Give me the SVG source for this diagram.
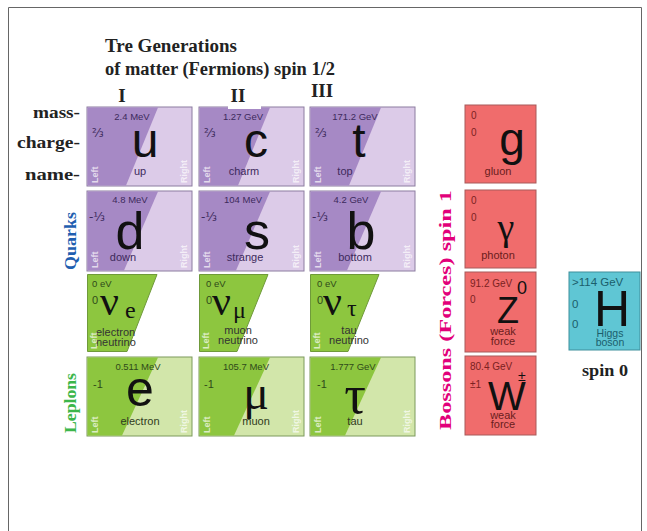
<svg xmlns="http://www.w3.org/2000/svg" width="647" height="531" viewBox="0 0 647 531">
<style>
.hdr{font-family:"Liberation Serif",serif;font-weight:bold;font-size:18px;fill:#222}
.num{font-family:"Liberation Serif",serif;font-weight:bold;font-size:19px;fill:#222}
.lbl{font-family:"Liberation Serif",serif;font-weight:bold;font-size:17px;fill:#222}
.serif{font-family:"Liberation Serif",serif}
.qbg{fill:#dccbe8;stroke:#8c7ca0;stroke-width:1}
.qdk{fill:#a689c5}
.lbg{fill:#d2e6aa;stroke:#7c9a5c;stroke-width:1}
.ldk{fill:#8dc63f}
.nu{fill:#8dc63f;stroke:#6f9a3a;stroke-width:1}
.bbg{fill:#f06c6c;stroke:#a85a5a;stroke-width:1}
.hbg{fill:#5fc6d4;stroke:#3f8f9c;stroke-width:1}
.qs{font-family:"Liberation Sans",Arial,sans-serif;font-size:9.5px;fill:#3d2a5c}
.qc{font-family:"DejaVu Sans",sans-serif;font-size:12px;fill:#3d2a5c}
.qn{font-family:"Liberation Sans",Arial,sans-serif;font-size:11px;fill:#3d2a5c}
.ls{font-family:"Liberation Sans",Arial,sans-serif;font-size:9.5px;fill:#2f4a1a}
.lc{font-family:"Liberation Sans",Arial,sans-serif;font-size:11px;fill:#2f4a1a}
.ln{font-family:"Liberation Sans",Arial,sans-serif;font-size:11px;fill:#2f3a20}
.nn{font-family:"Liberation Sans",Arial,sans-serif;font-size:11px;fill:#333}
.bs{font-family:"Liberation Sans",Arial,sans-serif;font-size:10px;fill:#7a2222}
.bn{font-family:"Liberation Sans",Arial,sans-serif;font-size:11px;fill:#6a1c1c}
.hs{font-family:"Liberation Sans",Arial,sans-serif;font-size:11.5px;fill:#1b5e6c}
.hn{font-family:"Liberation Sans",Arial,sans-serif;font-size:10.5px;fill:#1b5e6c}
.big{font-family:"Liberation Sans",Arial,sans-serif;fill:#111}
.lr{font-family:"Liberation Sans",Arial,sans-serif;font-size:9px;font-weight:bold;fill:#fff;fill-opacity:0.7}
.mid{text-anchor:middle}
</style>

<!-- frame -->
<path d="M8.5,531 V7.5 H641.5 V531" fill="none" stroke="#666" stroke-width="1"/>

<!-- headings -->
<g id="headings">
<text class="hdr" x="105" y="52" textLength="132" lengthAdjust="spacingAndGlyphs">Tre Generations</text>
<text class="hdr" x="105" y="75" textLength="230" lengthAdjust="spacingAndGlyphs">of matter (Fermions) spin 1/2</text>
<text class="num mid" x="122" y="102">I</text>
<text class="num mid" x="238" y="102">II</text>
<text class="num mid" x="322" y="97">III</text>
<text class="lbl" x="33" y="118" textLength="47" lengthAdjust="spacingAndGlyphs">mass-</text>
<text class="lbl" x="17" y="148" textLength="63" lengthAdjust="spacingAndGlyphs">charge-</text>
<text class="lbl" x="25" y="180" textLength="55" lengthAdjust="spacingAndGlyphs">name-</text>
<text class="lbl" transform="translate(76,270) rotate(-90)" style="fill:#1f5fb0" textLength="58" lengthAdjust="spacingAndGlyphs">Quarks</text>
<text class="lbl" transform="translate(76,433) rotate(-90)" style="fill:#3cb64a" textLength="60" lengthAdjust="spacingAndGlyphs">Leplons</text>
<text class="lbl" transform="translate(451,430) rotate(-90)" style="fill:#e2007a" textLength="240" lengthAdjust="spacingAndGlyphs">Bossons (Forces) spin 1</text>
<text class="lbl" x="582" y="376" textLength="46" lengthAdjust="spacingAndGlyphs">spin 0</text>
</g>

<!-- quarks row 1 -->
<g id="cell-u" transform="translate(87,107)">
<rect class="qbg" x="0" y="0" width="105" height="79"/>
<polygon class="qdk" points="0.5,0.5 71,0.5 39,78.5 0.5,78.5"/>
<text class="qs mid" x="45" y="13">2.4 MeV</text>
<text class="qc" x="5" y="30">⅔</text>
<text class="big mid" x="58" y="50" font-size="48">u</text>
<text class="qn mid" x="53" y="68">up</text>
<text class="lr" transform="translate(11,76) rotate(-90)">Left</text>
<text class="lr" transform="translate(100,76) rotate(-90)">Right</text>
</g>
<g id="cell-c" transform="translate(199,107)">
<rect class="qbg" x="0" y="0" width="105" height="79"/>
<polygon class="qdk" points="0.5,0.5 71,0.5 39,78.5 0.5,78.5"/>
<text class="qs mid" x="44" y="13">1.27 GeV</text>
<text class="qc" x="5" y="30">⅔</text>
<text class="big mid" x="57" y="50" font-size="48">c</text>
<text class="qn mid" x="45" y="68">charm</text>
<text class="lr" transform="translate(11,76) rotate(-90)">Left</text>
<text class="lr" transform="translate(100,76) rotate(-90)">Right</text>
</g>
<rect x="228" y="104" width="33" height="5" fill="#fff"/>
<g id="cell-t" transform="translate(310,107)">
<rect class="qbg" x="0" y="0" width="105" height="79"/>
<polygon class="qdk" points="0.5,0.5 71,0.5 39,78.5 0.5,78.5"/>
<text class="qs mid" x="45" y="13">171.2 GeV</text>
<text class="qc" x="5" y="30">⅔</text>
<text class="big mid" x="49" y="50" font-size="48">t</text>
<text class="qn mid" x="35" y="68">top</text>
<text class="lr" transform="translate(11,76) rotate(-90)">Left</text>
<text class="lr" transform="translate(100,76) rotate(-90)">Right</text>
</g>

<!-- quarks row 2 -->
<g id="cell-d" transform="translate(87,191)">
<rect class="qbg" x="0" y="0" width="105" height="80"/>
<polygon class="qdk" points="0.5,0.5 71,0.5 37,79.5 0.5,79.5"/>
<text class="qs mid" x="43" y="12">4.8 MeV</text>
<text class="qc" x="2" y="30">-⅓</text>
<text class="big mid" x="43" y="58" font-size="52">d</text>
<text class="qn mid" x="36" y="70">down</text>
<text class="lr" transform="translate(11,77) rotate(-90)">Left</text>
<text class="lr" transform="translate(100,77) rotate(-90)">Right</text>
</g>
<g id="cell-s" transform="translate(199,191)">
<rect class="qbg" x="0" y="0" width="105" height="80"/>
<polygon class="qdk" points="0.5,0.5 71,0.5 37,79.5 0.5,79.5"/>
<text class="qs mid" x="44" y="12">104 MeV</text>
<text class="qc" x="2" y="30">-⅓</text>
<text class="big mid" x="58" y="58" font-size="52">s</text>
<text class="qn mid" x="46" y="70">strange</text>
<text class="lr" transform="translate(11,77) rotate(-90)">Left</text>
<text class="lr" transform="translate(100,77) rotate(-90)">Right</text>
</g>
<g id="cell-b" transform="translate(310,191)">
<rect class="qbg" x="0" y="0" width="105" height="80"/>
<polygon class="qdk" points="0.5,0.5 71,0.5 37,79.5 0.5,79.5"/>
<text class="qs mid" x="41" y="12">4.2 GeV</text>
<text class="qc" x="2" y="30">-⅓</text>
<text class="big mid" x="51" y="58" font-size="52">b</text>
<text class="qn mid" x="45" y="70">bottom</text>
<text class="lr" transform="translate(11,77) rotate(-90)">Left</text>
<text class="lr" transform="translate(100,77) rotate(-90)">Right</text>
</g>

<!-- neutrinos -->
<g id="cell-nue" transform="translate(87,274)">
<polygon class="nu" points="0.5,0.5 70,0.5 40,77.5 0.5,77.5"/>
<text class="ls" x="5" y="13">0 eV</text>
<text class="lc" x="5" y="30">0</text>
<text class="serif" x="13" y="41" font-size="42" fill="#111">ν</text>
<text class="serif" x="38" y="44" font-size="24" fill="#111">e</text>
<text class="nn" x="9" y="62">electron</text>
<text class="nn" x="9" y="72">neutrino</text>
<text class="lr" transform="translate(10,75) rotate(-90)">Left</text>
</g>
<g id="cell-numu" transform="translate(199,274)">
<polygon class="nu" points="0.5,0.5 69,0.5 38,77.5 0.5,77.5"/>
<text class="ls" x="7" y="13">0 eV</text>
<text class="lc" x="7" y="30">0</text>
<text class="serif" x="13" y="41" font-size="42" fill="#111">ν</text>
<text class="serif" x="34" y="44" font-size="24" fill="#111">μ</text>
<text class="nn mid" x="39" y="60">muon</text>
<text class="nn mid" x="39" y="70">neutrino</text>
<text class="lr" transform="translate(10,75) rotate(-90)">Left</text>
</g>
<g id="cell-nutau" transform="translate(310,274)">
<polygon class="nu" points="0.5,0.5 69,0.5 38,77.5 0.5,77.5"/>
<text class="ls" x="7" y="13">0 eV</text>
<text class="lc" x="7" y="30">0</text>
<text class="serif" x="13" y="41" font-size="42" fill="#111">ν</text>
<text class="serif" x="37" y="42" font-size="24" fill="#111">τ</text>
<text class="nn mid" x="39" y="60">tau</text>
<text class="nn mid" x="39" y="70">neutrino</text>
<text class="lr" transform="translate(10,75) rotate(-90)">Left</text>
</g>

<!-- charged leptons -->
<g id="cell-e" transform="translate(87,357)">
<rect class="lbg" x="0" y="0" width="105" height="79"/>
<polygon class="ldk" points="0.5,0.5 71,0.5 35,78.5 0.5,78.5"/>
<text class="ls mid" x="51" y="13">0.511 MeV</text>
<text class="lc" x="6" y="31">-1</text>
<text class="big mid" x="53" y="49" font-size="50">e</text>
<text class="ln mid" x="53" y="68">electron</text>
<text class="lr" transform="translate(11,76) rotate(-90)">Left</text>
<text class="lr" transform="translate(100,76) rotate(-90)">Right</text>
</g>
<g id="cell-mu" transform="translate(199,357)">
<rect class="lbg" x="0" y="0" width="105" height="79"/>
<polygon class="ldk" points="0.5,0.5 71,0.5 35,78.5 0.5,78.5"/>
<text class="ls mid" x="47" y="13">105.7 MeV</text>
<text class="lc" x="5" y="31">-1</text>
<text class="serif mid" x="57" y="52" font-size="48" fill="#111">μ</text>
<text class="ln mid" x="57" y="68">muon</text>
<text class="lr" transform="translate(11,76) rotate(-90)">Left</text>
<text class="lr" transform="translate(100,76) rotate(-90)">Right</text>
</g>
<g id="cell-tau" transform="translate(310,357)">
<rect class="lbg" x="0" y="0" width="105" height="79"/>
<polygon class="ldk" points="0.5,0.5 71,0.5 35,78.5 0.5,78.5"/>
<text class="ls mid" x="43" y="13">1.777 GeV</text>
<text class="lc" x="7" y="31">-1</text>
<text class="serif mid" x="45" y="56" font-size="54" fill="#111">τ</text>
<text class="ln mid" x="45" y="68">tau</text>
<text class="lr" transform="translate(11,76) rotate(-90)">Left</text>
<text class="lr" transform="translate(100,76) rotate(-90)">Right</text>
</g>

<!-- bosons -->
<g id="cell-g" transform="translate(465,105)">
<rect class="bbg" x="0" y="0" width="71" height="78"/>
<text class="bs" x="6" y="14" font-size="11">0</text>
<text class="bs" x="6" y="31" font-size="11">0</text>
<text class="big mid" x="47" y="50" font-size="46">g</text>
<text class="bn mid" x="33" y="70">gluon</text>
</g>
<g id="cell-gamma" transform="translate(465,190)">
<rect class="bbg" x="0" y="0" width="71" height="78"/>
<text class="bs" x="6" y="14" font-size="11">0</text>
<text class="bs" x="6" y="31" font-size="11">0</text>
<text class="serif mid" x="41" y="50" font-size="38" fill="#111">γ</text>
<text class="bn mid" x="33" y="69">photon</text>
</g>
<g id="cell-Z" transform="translate(465,272)">
<rect class="bbg" x="0" y="0" width="71" height="80"/>
<text class="bs" x="5" y="15">91.2 GeV</text>
<text class="big" x="52" y="22" font-size="18">0</text>
<text class="bs" x="5" y="31" font-size="11">0</text>
<text class="big mid" x="43" y="51" font-size="36">Z</text>
<text class="bn mid" x="38" y="63">weak</text>
<text class="bn mid" x="38" y="73">force</text>
</g>
<g id="cell-W" transform="translate(465,356)">
<rect class="bbg" x="0" y="0" width="71" height="79"/>
<text class="bs" x="5" y="14">80.4 GeV</text>
<text class="bs" x="5" y="32" font-size="11">±1</text>
<text class="big mid" x="42" y="54" font-size="40">W</text>
<text class="big" x="53" y="25" font-size="14">±</text>
<text class="bn mid" x="38" y="63">weak</text>
<text class="bn mid" x="38" y="72">force</text>
</g>

<!-- Higgs -->
<g id="cell-H" transform="translate(569,272)">
<rect class="hbg" x="0" y="0" width="71" height="78"/>
<text class="hs" x="3" y="14">&gt;114 GeV</text>
<text class="hs" x="3" y="36">0</text>
<text class="hs" x="3" y="56">0</text>
<text class="big mid" x="43" y="54" font-size="50">H</text>
<text class="hn mid" x="41" y="65">Higgs</text>
<text class="hn mid" x="41" y="74">boson</text>
</g>
</svg>
